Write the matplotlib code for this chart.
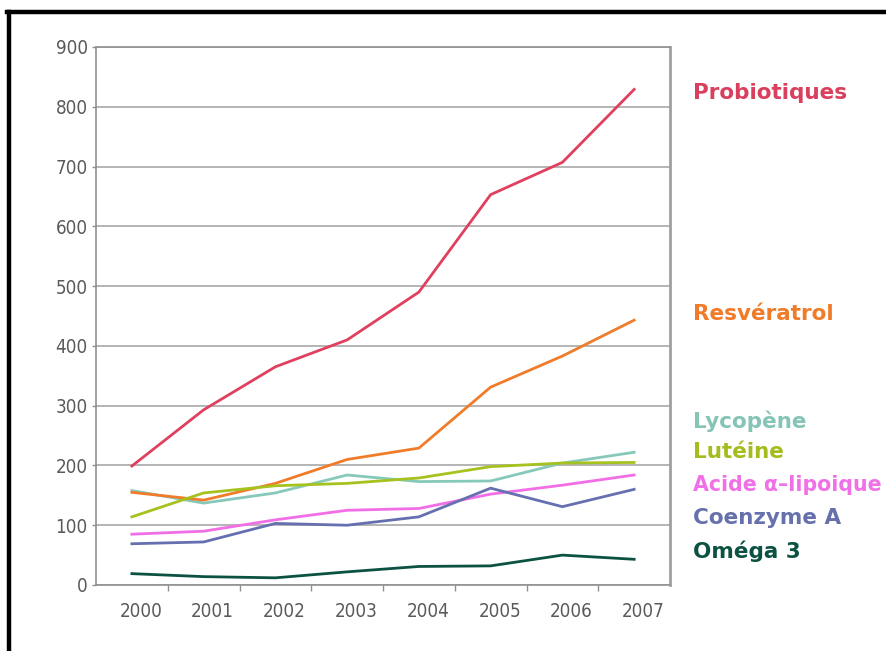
import matplotlib
matplotlib.use("Agg")
import matplotlib.pyplot as plt
from matplotlib.lines import Line2D
from matplotlib.transforms import ScaledTranslation
from matplotlib import font_manager

years = ["2000", "2001", "2002", "2003", "2004", "2005", "2006", "2007"]
probiotiques = [199, 293, 365, 410, 490, 653, 707, 829]
resveratrol = [155, 142, 170, 210, 229, 331, 383, 443]
lycopene = [158, 137, 154, 184, 173, 174, 204, 222]
luteine = [114, 154, 166, 170, 179, 198, 204, 205]
acide_lipoique = [85, 90, 109, 125, 128, 152, 167, 184]
coenzyme_a = [69, 72, 103, 100, 114, 162, 131, 160]
omega3 = [19, 14, 12, 22, 31, 32, 50, 43]

series_names = ["Probiotiques", "Resvératrol", "Lycopène", "Lutéine",
                "Acide \u03b1\u2013lipoique", "Coenzyme A", "Oméga 3"]
series_values = [probiotiques, resveratrol, lycopene, luteine,
                 acide_lipoique, coenzyme_a, omega3]
line_colors = ["#e0405e", "#f07c2a", "#86c9bb", "#a6c21e", "#f26ee6", "#6670b0", "#0c5242"]
text_colors = ["#d8405e", "#f07c2a", "#86c4b6", "#a6bc1e", "#f070e8", "#6670ac", "#0c5242"]
yticks = [0, 100, 200, 300, 400, 500, 600, 700, 800, 900]

W, H = 886, 651
fig = plt.figure(figsize=(W / 100, H / 100), dpi=100)
fig.patch.set_facecolor("white")

ax = fig.add_axes([96 / W, 1 - 585 / H, (670 - 96) / W, (585 - 47) / H])
x = list(range(len(years)))
zorders = [5, 4, 3, 4, 3, 3, 3]
for vals, col, z in zip(series_values, line_colors, zorders):
    ax.plot(x, vals, color=col, lw=2.0, zorder=z)

ax.set_xlim(-0.5, len(years) - 0.5)
ax.set_ylim(0, 900)
ax.set_yticks(yticks)
ax.set_yticklabels([str(v) for v in yticks])
ax.set_xticks(x)
ax.set_xticklabels(years)
ax.set_xticks([i + 0.5 for i in range(len(years) - 1)], minor=True)
ax.grid(axis="y", color="#a8a8a8", lw=1.2, zorder=1)
ax.set_axisbelow(True)

# condensed font for ticks if available
names = {f.name for f in font_manager.fontManager.ttflist}
cond = [f for f in font_manager.fontManager.ttflist
        if f.name == "DejaVu Sans" and "ondensed" in f.fname and "Bold" not in f.fname
        and "Oblique" not in f.fname]
if "Liberation Sans Narrow" in names:
    tick_kw = dict(family="Liberation Sans Narrow", size=15)
elif cond:
    tick_kw = dict(fname=cond[0].fname, size=13.5)
else:
    tick_kw = dict(family="Liberation Sans", size=13)
tick_fp = font_manager.FontProperties(**tick_kw)

for lab in ax.get_yticklabels() + ax.get_xticklabels():
    lab.set_fontproperties(tick_fp)
    lab.set_color("#5a5a5a")
ax.tick_params(axis="y", which="major", length=3, width=1, color="#909090", pad=3)
ax.tick_params(axis="x", which="major", length=0, pad=12)
ax.tick_params(axis="x", which="minor", length=4, width=1, color="#909090")

off = ScaledTranslation(9 / 100, 0, fig.dpi_scale_trans)
for lab in ax.get_xticklabels():
    lab.set_transform(lab.get_transform() + off)

for side in ["left", "top", "bottom"]:
    ax.spines[side].set_color("#909090")
    ax.spines[side].set_linewidth(1.2)
ax.spines["right"].set_color("#a0a0a0")
ax.spines["right"].set_linewidth(2.0)

# right-side labels
label_px = [93, 314, 421, 452, 485, 518, 551]
label_sizes = [15.5, 15.5, 15.5, 15.5, 14.8, 15.5, 15.5]
for name, col, py, fs in zip(series_names, text_colors, label_px, label_sizes):
    fig.text(693 / W, 1 - py / H, name, color=col, fontsize=fs, fontweight="bold",
             family=["DejaVu Sans"], ha="left", va="center")

# black frame (top and left edges)
fig.add_artist(Line2D([7 / W, 1], [1 - 12 / H, 1 - 12 / H], color="black", lw=3.2,
                      transform=fig.transFigure))
fig.add_artist(Line2D([9 / W, 9 / W], [0, 1 - 12 / H], color="black", lw=3.2,
                      transform=fig.transFigure))

fig.savefig("out.png", dpi=100, facecolor="white")
